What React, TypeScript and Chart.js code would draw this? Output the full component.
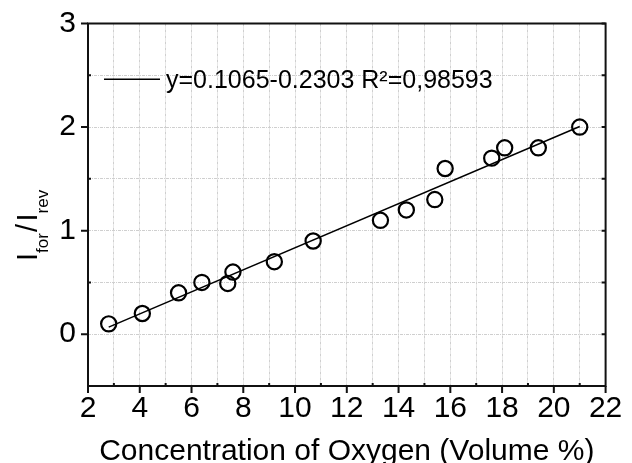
import React, { useEffect, useRef } from "react";
import { Chart, registerables } from "chart.js";

Chart.register(...registerables);

// ---- data ----
const oxygenConc = [2.8, 4.1, 5.5, 6.4, 7.4, 7.6, 9.2, 10.7, 13.3, 14.3, 15.4, 15.8, 17.6, 18.1, 19.4, 21.0];
const currentRatio = [0.1, 0.2, 0.4, 0.5, 0.49, 0.6, 0.7, 0.9, 1.1, 1.2, 1.3, 1.6, 1.7, 1.8, 1.8, 2.0];
const fitX = [2.8, 21.0];
const fitY = [0.068, 2.006];
const fitLabel = "y=0.1065-0.2303 R\u00B2=0,98593";
const xTickValues = [2, 4, 6, 8, 10, 12, 14, 16, 18, 20, 22];
const yTickValues = [0, 1, 2, 3];
const xTitle = "Concentration of Oxygen (Volume %)";
const yTitleParts = [
  { text: "I", sub: false },
  { text: "for", sub: true },
  { text: "/", sub: false },
  { text: "I", sub: false },
  { text: "rev", sub: true },
];

const FONT = "'Liberation Sans', Arial, Helvetica, sans-serif";

const decorPlugin = {
  id: "decor",
  afterDraw(chart: any) {
    const ctx = chart.ctx;
    const area = chart.chartArea;
    const xs = chart.scales.x;
    const ys = chart.scales.y;
    ctx.save();
    // frame
    ctx.strokeStyle = "#111";
    ctx.lineWidth = 2;
    ctx.strokeRect(area.left, area.top, area.right - area.left, area.bottom - area.top);
    // ticks
    ctx.lineWidth = 2;
    ctx.beginPath();
    ys.ticks.forEach((t: any) => {
      const py = ys.getPixelForValue(t.value);
      if (yTickValues.includes(t.value)) {
        ctx.moveTo(area.left - 7, py);
        ctx.lineTo(area.left, py);
      } else {
        ctx.moveTo(area.left, py);
        ctx.lineTo(area.left + 3, py);
      }
      ctx.moveTo(area.right, py);
      ctx.lineTo(area.right - 4, py);
    });
    xs.ticks.forEach((t: any) => {
      const px = xs.getPixelForValue(t.value);
      if (xTickValues.includes(t.value)) {
        ctx.moveTo(px, area.bottom);
        ctx.lineTo(px, area.bottom + 7);
      } else {
        ctx.moveTo(px, area.bottom);
        ctx.lineTo(px, area.bottom - 3);
      }
    });
    ctx.stroke();

    // legend (inside plot)
    const ds = chart.data.datasets[0];
    const ly = area.top + 55.8;
    ctx.strokeStyle = ds.borderColor;
    ctx.lineWidth = 1.5;
    ctx.beginPath();
    ctx.moveTo(area.left + 16, ly);
    ctx.lineTo(area.left + 72, ly);
    ctx.stroke();
    ctx.fillStyle = "#000";
    ctx.font = `25px ${FONT}`;
    ctx.textAlign = "left";
    ctx.textBaseline = "alphabetic";
    ctx.fillText(ds.label, area.left + 78, area.top + 64.8);

    // x title
    ctx.font = `30px ${FONT}`;
    ctx.textAlign = "center";
    ctx.fillText(xTitle, (area.left + area.right) / 2, 460);

    // y title (rotated, with subscripts)
    ctx.rotate(-Math.PI / 2);
    ctx.textAlign = "left";
    let u = -261;
    yTitleParts.forEach((p) => {
      const size = p.sub ? 17 : 29;
      ctx.font = `${size}px ${FONT}`;
      const base = p.sub ? 47.5 : 37;
      if (p.text === "/") u += 1;
      ctx.fillText(p.text, u, base);
      u += ctx.measureText(p.text).width;
      if (p.text === "/") u += 2.5;
    });
    ctx.restore();
  },
};

export default function App() {
  const ref = useRef<HTMLCanvasElement | null>(null);
  useEffect(() => {
    if (!ref.current) return;
    Chart.defaults.font.family = FONT;
    const chart = new Chart(ref.current, {
      type: "scatter",
      data: {
        datasets: [
          {
            label: fitLabel,
            data: fitX.map((x, i) => ({ x, y: fitY[i] })),
            showLine: true,
            borderColor: "#000",
            borderWidth: 1.5,
            pointRadius: 0,
          },
          {
            label: "measured",
            data: oxygenConc.map((x, i) => ({ x, y: currentRatio[i] })),
            pointRadius: 7.6,
            pointBorderWidth: 2.2,
            borderColor: "#000",
            backgroundColor: "rgba(0,0,0,0)",
            pointStyle: "circle",
          },
        ],
      },
      options: {
        animation: false,
        responsive: true,
        maintainAspectRatio: false,
        layout: { padding: { top: 23.5, right: 26.4, left: 0, bottom: 0 } },
        plugins: { legend: { display: false }, tooltip: { enabled: false } },
        scales: {
          x: {
            type: "linear",
            min: 2,
            max: 22,
            afterFit: (s: any) => {
              s.height = 77;
              s.paddingLeft = 0;
              s.paddingRight = 0;
              s.paddingTop = 0;
              s.paddingBottom = 0;
            },
            ticks: {
              stepSize: 1,
              autoSkip: false,
              maxRotation: 0,
              padding: 5,
              color: "#000",
              font: { size: 30 },
              callback: (v: any) => (xTickValues.includes(v) ? String(v) : ""),
            },
            grid: { color: "#cfcfcf", lineWidth: 1, drawTicks: false },
            border: { display: false, dash: [3, 1, 1, 1] },
          },
          y: {
            type: "linear",
            min: -0.5,
            max: 3,
            afterFit: (s: any) => {
              s.width = 88;
              s.paddingLeft = 0;
              s.paddingRight = 0;
              s.paddingTop = 0;
              s.paddingBottom = 0;
            },
            ticks: {
              stepSize: 0.5,
              autoSkip: false,
              padding: 12,
              color: "#000",
              font: { size: 30 },
              callback: (v: any) => (yTickValues.includes(v) ? String(v) : ""),
            },
            grid: { color: "#cfcfcf", lineWidth: 1, drawTicks: false },
            border: { display: false, dash: [3, 1, 1, 1] },
          },
        },
      },
      plugins: [decorPlugin],
    } as any);
    return () => chart.destroy();
  }, []);
  return (
    <div style={{ position: "fixed", left: 0, top: 0, width: 632, height: 463, background: "#fff" }}>
      <canvas ref={ref} style={{ display: "block", width: 632, height: 463 }} />
    </div>
  );
}
